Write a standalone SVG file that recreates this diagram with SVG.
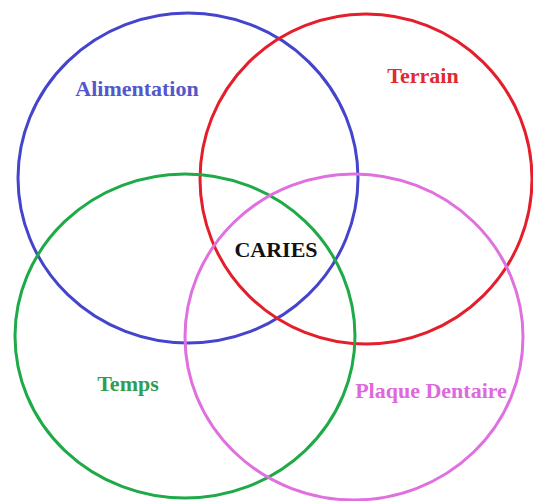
<svg xmlns="http://www.w3.org/2000/svg" width="533" height="501" viewBox="0 0 533 501">
<style>
.c{fill:none;stroke-width:3}
.t{font-family:"Liberation Serif","Times New Roman",serif;font-weight:bold;font-size:22px;text-anchor:middle}
</style>
<rect width="533" height="501" fill="#fff"/>
<g id="alimentation"><ellipse class="c" cx="188" cy="178" rx="170" ry="165" stroke="#4444cc"/><text class="t" x="137" y="96" fill="#5257cc">Alimentation</text></g>
<g id="terrain"><ellipse class="c" cx="366" cy="179" rx="166" ry="165" stroke="#e41e2a"/><text class="t" x="423" y="83" fill="#e02a30">Terrain</text></g>
<g id="temps"><ellipse class="c" cx="185" cy="336" rx="170" ry="162" stroke="#1faa48"/><text class="t" x="128" y="391" fill="#2f9e50">Temps</text></g>
<g id="plaque"><ellipse class="c" cx="354" cy="337" rx="169" ry="163" stroke="#e070e0"/><text class="t" x="431" y="398" fill="#de68de">Plaque Dentaire</text></g>
<g id="caries"><text class="t" x="276" y="257" fill="#111">CARIES</text></g>
<g id="connectors"></g>
</svg>
